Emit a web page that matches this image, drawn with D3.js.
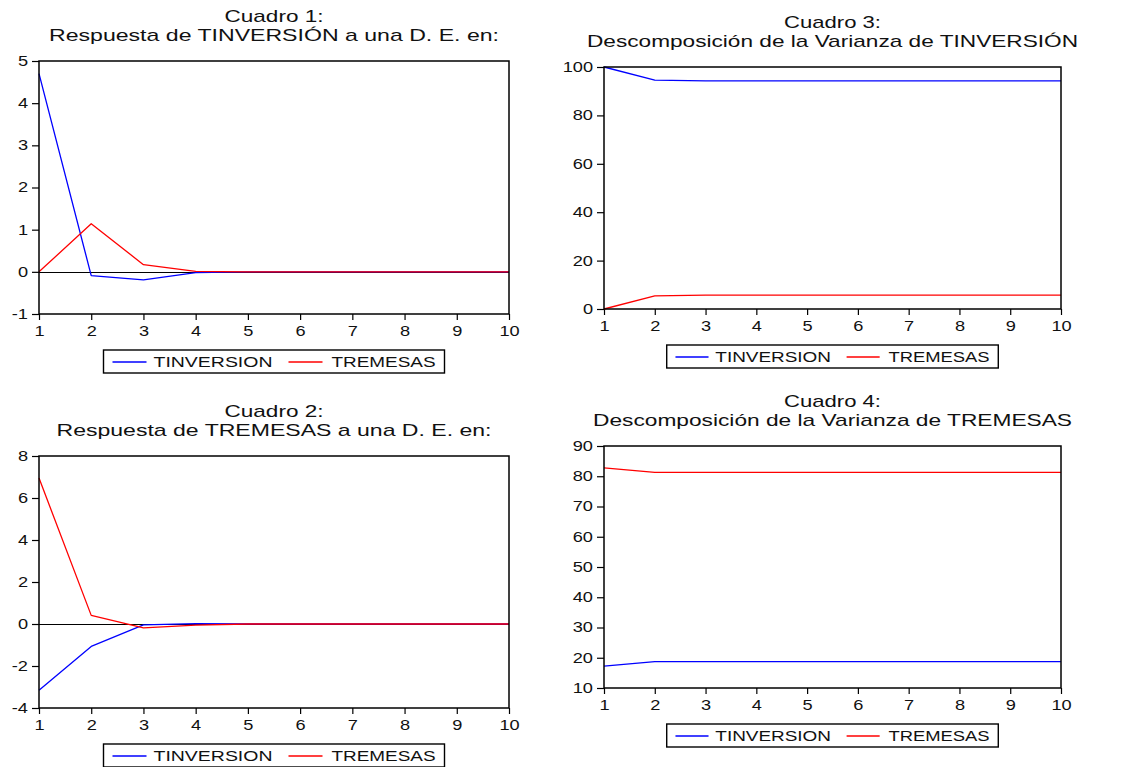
<!DOCTYPE html>
<html>
<head>
<meta charset="utf-8">
<script src="https://cdn.jsdelivr.net/npm/d3@7"></script>
<style>
    body { margin: 0; background: #fff; }
    svg { display: block; font-family: "Liberation Sans", Arial, sans-serif; }
</style>
</head>
<body>
<svg id="chart" width="1121" height="767"></svg>
<script>
// periods on the horizontal axis
const periods = [1, 2, 3, 4, 5, 6, 7, 8, 9, 10];
const seriesNames = ["TINVERSION", "TREMESAS"];
const seriesColors = ["#0000ff", "#ff0000"];

// Cuadro 1: response of TINVERSION
const c1Tinversion = [4.70, -0.09, -0.19, -0.02, 0.00, 0.00, 0.00, 0.00, 0.00, 0.00];
const c1Tremesas = [0.00, 1.14, 0.17, 0.01, 0.00, 0.00, 0.00, 0.00, 0.00, 0.00];
// Cuadro 2: response of TREMESAS
const c2Tinversion = [-3.16, -1.07, -0.04, 0.02, 0.00, 0.00, 0.00, 0.00, 0.00, 0.00];
const c2Tremesas = [6.95, 0.41, -0.18, -0.05, 0.00, 0.00, 0.00, 0.00, 0.00, 0.00];
// Cuadro 3: variance decomposition of TINVERSION
const c3Tinversion = [100.0, 94.6, 94.3, 94.3, 94.3, 94.3, 94.3, 94.3, 94.3, 94.3];
const c3Tremesas = [0.0, 5.4, 5.7, 5.7, 5.7, 5.7, 5.7, 5.7, 5.7, 5.7];
// Cuadro 4: variance decomposition of TREMESAS
const c4Tinversion = [17.2, 18.7, 18.7, 18.7, 18.7, 18.7, 18.7, 18.7, 18.7, 18.7];
const c4Tremesas = [82.8, 81.3, 81.3, 81.3, 81.3, 81.3, 81.3, 81.3, 81.3, 81.3];

// y tick labels for each panel
const c1Ticks = [-1, 0, 1, 2, 3, 4, 5];
const c2Ticks = [-4, -2, 0, 2, 4, 6, 8];
const c3Ticks = [0, 20, 40, 60, 80, 100];
const c4Ticks = [10, 20, 30, 40, 50, 60, 70, 80, 90];

const panels = [
    {
        title: ["Cuadro 1:", "Respuesta de TINVERSIÓN a una D. E. en:"],
        titleWidth: [99, 450],
        series: [c1Tinversion, c1Tremesas],
        domain: [-1, 5], ticks: c1Ticks, zeroLine: true,
        box: {left: 39, right: 509, top: 61, bottom: 314}
    },
    {
        title: ["Cuadro 2:", "Respuesta de TREMESAS a una D. E. en:"],
        titleWidth: [99, 435],
        series: [c2Tinversion, c2Tremesas],
        domain: [-4, 8], ticks: c2Ticks, zeroLine: true,
        box: {left: 39, right: 509, top: 456, bottom: 708}
    },
    {
        title: ["Cuadro 3:", "Descomposición de la Varianza de TINVERSIÓN"],
        titleWidth: [97, 491],
        series: [c3Tinversion, c3Tremesas],
        domain: [0, 100], ticks: c3Ticks, zeroLine: false,
        box: {left: 604, right: 1061, top: 67, bottom: 309}
    },
    {
        title: ["Cuadro 4:", "Descomposición de la Varianza de TREMESAS"],
        titleWidth: [97, 479],
        series: [c4Tinversion, c4Tremesas],
        domain: [10, 90], ticks: c4Ticks, zeroLine: false,
        box: {left: 604, right: 1061, top: 446, bottom: 688}
    }
];

const svg = d3.select("#chart");

// stretch text horizontally, the original fonts are wide
function stretch(sel, k) {
    sel.each(function () {
        let w = this.getComputedTextLength();
        d3.select(this)
            .attr("textLength", w * k)
            .attr("lengthAdjust", "spacingAndGlyphs");
    });
}

function drawPanel(p) {
    let b = p.box;
    let width = b.right - b.left;
    let height = b.bottom - b.top;
    let g = svg.append("g").attr("transform", "translate(" + b.left + "," + b.top + ")");

    let xScale = d3.scaleLinear().domain([1, 10]).range([0, width]);
    let yScale = d3.scaleLinear().domain(p.domain).range([height, 0]);

    // titles
    p.title.forEach(function (t, i) {
        g.append("text")
            .attr("x", width / 2)
            .attr("y", i == 0 ? -39 : -20)
            .attr("text-anchor", "middle")
            .attr("font-size", "17px")
            .attr("fill", "#111")
            .attr("textLength", p.titleWidth[i])
            .attr("lengthAdjust", "spacingAndGlyphs")
            .text(t);
    });

    // axes
    let fmt = function (d) { return String(d); };
    let xAxis = g.append("g")
        .attr("transform", "translate(0," + height + ")")
        .call(d3.axisBottom(xScale).tickValues(periods).tickFormat(fmt).tickSize(6).tickPadding(5));
    let yAxis = g.append("g")
        .call(d3.axisLeft(yScale).tickValues(p.ticks).tickFormat(fmt).tickSize(7).tickPadding(4));

    [xAxis, yAxis].forEach(function (ax) {
        ax.select(".domain").remove();
        ax.selectAll("line").attr("stroke", "#000").attr("stroke-width", 1.2);
        ax.selectAll("text")
            .attr("font-size", "14px")
            .attr("font-family", "'Liberation Sans', Arial, sans-serif")
            .attr("fill", "#111");
    });
    xAxis.selectAll("text").attr("dy", "0.75em");
    stretch(xAxis.selectAll("text"), 1.3);
    stretch(yAxis.selectAll("text"), 1.3);

    if (p.zeroLine) {
        g.append("line")
            .attr("x1", 0).attr("x2", width)
            .attr("y1", Math.round(yScale(0)) + 0.5).attr("y2", Math.round(yScale(0)) + 0.5)
            .attr("stroke", "#000")
            .attr("stroke-width", 1);
    }

    let line = d3.line()
        .x(function (d, i) { return xScale(periods[i]); })
        .y(function (d) { return yScale(d); });

    p.series.forEach(function (s, i) {
        g.append("path")
            .datum(s)
            .attr("fill", "none")
            .attr("stroke", seriesColors[i])
            .attr("stroke-width", 1.3)
            .attr("stroke-linejoin", "round")
            .attr("d", line);
    });

    // plot frame
    g.append("rect")
        .attr("x", 0).attr("y", 0)
        .attr("width", width).attr("height", height)
        .attr("fill", "none")
        .attr("stroke", "#000")
        .attr("stroke-width", 1.5);

    // legend
    let k = width / 470;
    let lw = 341 * k;
    let legend = g.append("g")
        .attr("transform", "translate(" + (width / 2 - lw / 2) + "," + (height + 36) + ")");
    legend.append("rect")
        .attr("width", lw).attr("height", 23)
        .attr("fill", "#fff")
        .attr("stroke", "#000")
        .attr("stroke-width", 1.4);
    let lineX = [9, 185];
    let textX = [50, 228];
    let textW = [119, 104];
    seriesNames.forEach(function (name, i) {
        legend.append("line")
            .attr("x1", lineX[i] * k).attr("x2", (lineX[i] + 34) * k)
            .attr("y1", 12).attr("y2", 12)
            .attr("stroke", seriesColors[i])
            .attr("stroke-width", 1.3);
        legend.append("text")
            .attr("x", textX[i] * k)
            .attr("y", 17)
            .attr("font-size", "14px")
            .attr("fill", "#111")
            .attr("textLength", textW[i] * k)
            .attr("lengthAdjust", "spacingAndGlyphs")
            .text(name);
    });
}

panels.forEach(drawPanel);
</script>
</body>
</html>
